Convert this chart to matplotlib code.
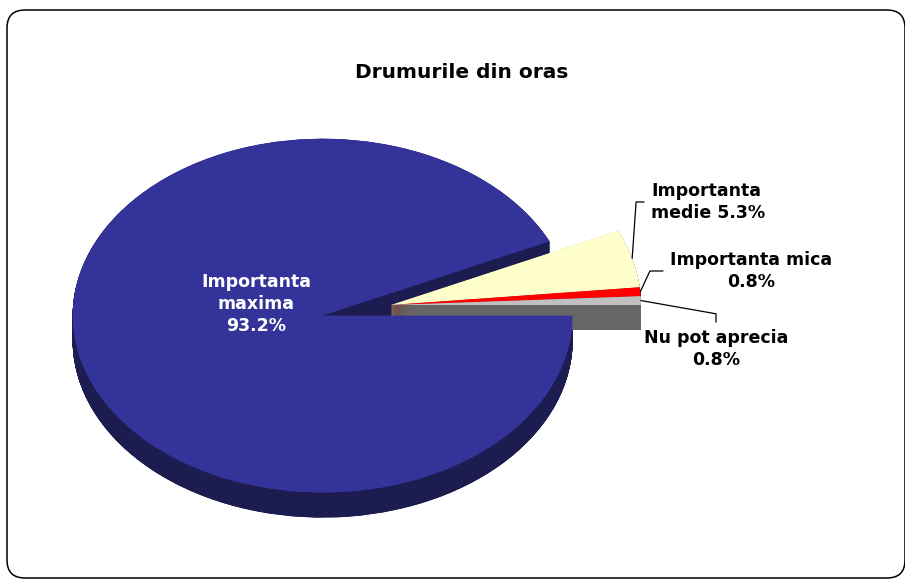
import numpy as np
import matplotlib.pyplot as plt
from matplotlib.patches import FancyBboxPatch

# data
labels = ['Importanta maxima', 'Importanta medie', 'Importanta mica', 'Nu pot aprecia']
values = [93.2, 5.3, 0.8, 0.8]
label_text = ['Importanta\nmaxima\n93.2%', 'Importanta\nmedie 5.3%',
              'Importanta mica\n0.8%', 'Nu pot aprecia\n0.8%']
top_colors = ['#333399', '#FFFFCC', '#FF0000', '#C0C0C0']
side_colors = ['#1C1C50', '#8C8C70', '#8B0000', '#666666']
explode = [0.28, 0, 0, 0]

W, H = 905, 579
fig = plt.figure(figsize=(W / 100, H / 100), dpi=100)
ax = fig.add_axes([0, 0, 1, 1])

# pie centre and radii in pixels (the pie is squashed into an ellipse)
cx, cy, rx, ry = 391, 305, 250, 177
depth = 25 / ry

# side walls: stack darker copies of the pie going down,
# each slice's walls kept together so later slices sit on top
n_layers = 110
for k, d in enumerate(np.linspace(depth, 0, n_layers)[:-1]):
    side, _ = ax.pie(values, colors=side_colors, explode=explode, startangle=0,
                     counterclock=False, center=(0, -d), wedgeprops=dict(linewidth=0))
    for i, w in enumerate(side):
        w.set_zorder(1 + i * 0.1 + k * 0.0001)
wedges, _ = ax.pie(values, colors=top_colors, explode=explode, startangle=0,
                   counterclock=False, center=(0, 0), wedgeprops=dict(linewidth=0))
for w in wedges:
    w.set_zorder(2)

ax.set_aspect('auto')
ax.set_xlim(-cx / rx, (W - cx) / rx)
ax.set_ylim((cy - H) / ry, cy / ry)
ax.axis('off')

font = dict(family='DejaVu Sans', fontweight='bold', fontsize=12.5)


def edge_point(w):
    t = np.deg2rad((w.theta1 + w.theta2) / 2)
    return (w.center[0] + w.r * np.cos(t), w.center[1] + w.r * np.sin(t))


fig.text(462 / W, 1 - 73 / H, 'Drumurile din oras', ha='center', va='center',
         family='DejaVu Sans', fontweight='bold', fontsize=14.5)
fig.text(256 / W, 1 - 304 / H, label_text[0], ha='center', va='center',
         color='white', linespacing=1.3, zorder=5, **font)

line = dict(arrowstyle='-', color='black', lw=0.9, shrinkA=3, shrinkB=0)
ax.annotate(label_text[1], xy=edge_point(wedges[1]), xytext=(651, H - 202),
            textcoords='figure pixels', ha='left', va='center', linespacing=1.3,
            arrowprops=dict(relpos=(0, 0.5), connectionstyle='angle,angleA=0,angleB=86,rad=0', **line),
            zorder=5, **font)
ax.annotate(label_text[2], xy=edge_point(wedges[2]), xytext=(751, H - 271),
            textcoords='figure pixels', ha='center', va='center', linespacing=1.3,
            arrowprops=dict(relpos=(0, 0.5), connectionstyle='angle,angleA=0,angleB=65,rad=0', **line),
            zorder=5, **font)
ax.annotate(label_text[3], xy=edge_point(wedges[3]), xytext=(716, H - 329),
            textcoords='figure pixels', ha='center', va='top', linespacing=1.3,
            arrowprops=dict(relpos=(0.5, 1), connectionstyle='angle,angleA=90,angleB=-10,rad=0', **line),
            zorder=5, **font)

# rounded chart border (inches)
border = FancyBboxPatch((0.07, 0.01), 8.98, 5.68, transform=fig.dpi_scale_trans,
                        boxstyle='round,pad=0,rounding_size=0.18', fill=False,
                        edgecolor='black', lw=1.1)
fig.add_artist(border)

fig.savefig('out.png', dpi=100)
